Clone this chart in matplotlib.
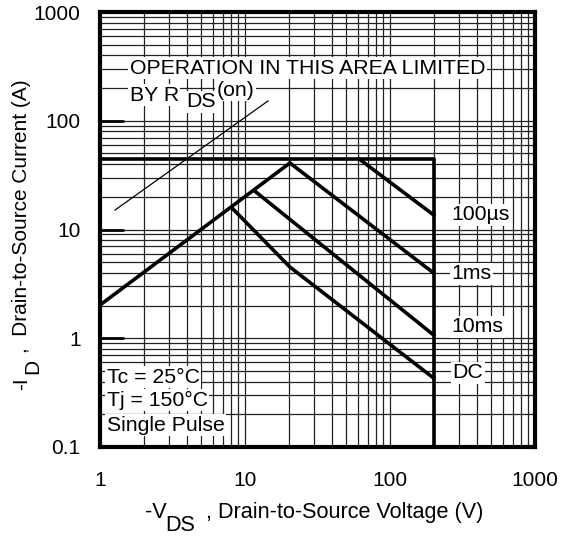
import matplotlib
matplotlib.use('agg')
import matplotlib.pyplot as plt

plt.rcParams['font.family'] = ['Liberation Sans', 'DejaVu Sans']

# limit lines (V, A)
rds_v = [1.27, 14.4]
rds_i = [15.1, 152]
limit_v = [1, 200, 200]
limit_i = [44.5, 44.5, 0.1]
rise_v = [1, 20.4]
rise_i = [2.02, 40.9]

# pulse lines
us100_v = [61.3, 200]
us100_i = [44.5, 13.6]
ms1_v = [20.4, 200]
ms1_i = [40.9, 3.98]
ms10_v = [11.9, 200]
ms10_i = [22.1, 1.07]
dc_v = [8.12, 20.4, 200]
dc_i = [15.8, 4.52, 0.43]

curve_labels = ['100\u00b5s', '1ms', '10ms', 'DC']
label_v = [265, 265, 265, 270]
label_i = [13.6, 3.9, 1.27, 0.48]

fs = 15.3
W, H = 567, 536

fig = plt.figure(figsize=(W/100, H/100), dpi=100)
ax = fig.add_axes([100/W, 89/H, 435/W, 435/H])
ax.set_xscale('log')
ax.set_yscale('log')
ax.set_xlim(1, 1000)
ax.set_ylim(0.1, 1000)

#grid
ax.grid(True, which='both', color='#222222', linewidth=0.9)
ax.set_axisbelow(True)

lw = 2.6
ax.plot(rds_v, rds_i, color='black', linewidth=0.9)
ax.plot(limit_v, limit_i, color='black', linewidth=lw)
ax.plot(rise_v, rise_i, color='black', linewidth=lw)
ax.plot(us100_v, us100_i, color='black', linewidth=lw)
ax.plot(ms1_v, ms1_i, color='black', linewidth=lw)
ax.plot(ms10_v, ms10_i, color='black', linewidth=lw)
ax.plot(dc_v, dc_i, color='black', linewidth=lw)

box = dict(facecolor='white', edgecolor='none', pad=1)
for lab, xv, yi in zip(curve_labels, label_v, label_i):
    ax.text(xv, yi, lab, fontsize=fs, va='center', ha='left', bbox=box)

ax.text(1.6, 305, 'OPERATION IN THIS AREA LIMITED', fontsize=fs, va='center', bbox=box)
ax.text(1.6, 172, 'BY R', fontsize=fs, va='center', bbox=box)
ax.text(3.95, 150, 'DS', fontsize=fs, va='center', bbox=box)
ax.text(6.4, 190, '(on)', fontsize=fs, va='center', bbox=box)

ax.text(1.11, 0.44, 'Tc = 25\u00b0C', fontsize=fs, va='center', bbox=box)
ax.text(1.11, 0.27, 'Tj = 150\u00b0C', fontsize=fs, va='center', bbox=box)
ax.text(1.11, 0.159, 'Single Pulse', fontsize=fs, va='center', bbox=box)

for s in ax.spines.values():
    s.set_linewidth(3)

ax.set_xticks([1, 10, 100, 1000])
ax.set_xticklabels(['1', '10', '100', '1000'])
ax.set_yticks([0.1, 1, 10, 100, 1000])
ax.set_yticklabels(['0.1', '1', '10', '100', '1000'])
ax.tick_params(axis='both', which='minor', length=0)
ax.tick_params(axis='x', which='major', length=0, labelsize=15, pad=17)
ax.tick_params(axis='y', which='major', direction='in', length=17, width=2,
               labelsize=15, pad=14)

# axis titles, built from pieces so the subscripts stay full size
xfs = 15.6
fig.text(145/W, 1-518/H, '-V', fontsize=xfs, ha='left', va='baseline')
fig.text(165/W, 1-531/H, 'DS', fontsize=xfs, ha='left', va='baseline')
fig.text(206/W, 1-518/H, ', Drain-to-Source Voltage (V)', fontsize=xfs, ha='left', va='baseline')

fig.text(12/W, 1-390/H, '-I', fontsize=15, rotation=90, ha='left', va='bottom')
fig.text(23/W, 1-366/H, 'D', fontsize=15, rotation=90, ha='left', va='center')
fig.text(12/W, 1-353/H, ',  Drain-to-Source Current (A)', fontsize=15, rotation=90, ha='left', va='bottom')

plt.savefig('out.png', dpi=100)
